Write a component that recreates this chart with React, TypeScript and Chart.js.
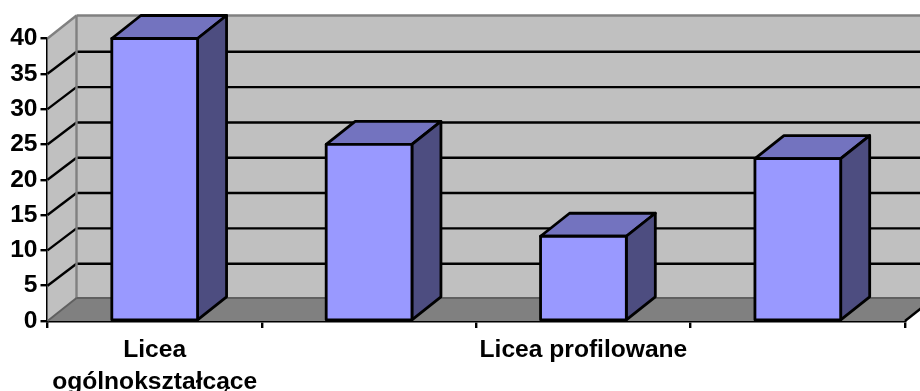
import React, { useEffect, useRef } from "react";
import { Chart, registerables } from "chart.js";

Chart.register(...registerables);

const categories: (string | string[])[] = [["Licea", "ogólnokształcące"], "", "Licea profilowane", ""];
const values = [40, 25, 12, 23];
const yTicks = [0, 5, 10, 15, 20, 25, 30, 35, 40];

const DX = 29;
const DY = -23;
const GRID_DY = -22;
const WALL = "#C0C0C0";
const EDGE = "#808080";
const FLOOR = "#808080";
const FRONT = "#9999FF";
const TOP = "#7373BF";
const SIDE = "#4D4D80";
const BAR_LINE = 2.8;

function poly(ctx: CanvasRenderingContext2D, pts: number[][], fill?: string, stroke?: string, lw = 2) {
  ctx.beginPath();
  pts.forEach((p, i) => (i ? ctx.lineTo(p[0], p[1]) : ctx.moveTo(p[0], p[1])));
  ctx.closePath();
  if (fill) {
    ctx.fillStyle = fill;
    ctx.fill();
  }
  if (stroke) {
    ctx.strokeStyle = stroke;
    ctx.lineWidth = lw;
    ctx.lineJoin = "round";
    ctx.stroke();
  }
}

function line(ctx: CanvasRenderingContext2D, x1: number, y1: number, x2: number, y2: number, color: string, lw = 2) {
  ctx.beginPath();
  ctx.moveTo(x1, y1);
  ctx.lineTo(x2, y2);
  ctx.strokeStyle = color;
  ctx.lineWidth = lw;
  ctx.stroke();
}

const box3d = {
  id: "box3d",
  beforeDatasetsDraw(chart: any) {
    const { ctx, scales } = chart;
    const y = scales.y;
    const l = chart.chartArea.left;
    const r = chart.chartArea.right;
    const y0 = y.getPixelForValue(0);
    const yMax = y.getPixelForValue(40);
    ctx.save();
    // walls and floor
    poly(ctx, [[l + DX, yMax + DY], [r + DX, yMax + DY], [r + DX, y0 + DY], [l + DX, y0 + DY]], WALL);
    poly(ctx, [[l, yMax], [l + DX, yMax + DY], [l + DX, y0 + DY], [l, y0]], WALL);
    poly(ctx, [[l, y0], [l + DX, y0 + DY], [r + DX, y0 + DY], [r, y0]], FLOOR);
    // gridlines
    for (const t of yTicks) {
      if (t === 0 || t === 40) continue;
      const p = y.getPixelForValue(t);
      line(ctx, l, p, l + DX, p + GRID_DY, "#000", 2.4);
      line(ctx, l + DX, p + GRID_DY, r + DX, p + GRID_DY, "#000", 2.4);
    }
    // edges
    line(ctx, l, yMax, l + DX, yMax + DY, EDGE, 2.4);
    line(ctx, l + DX, yMax + DY, r + DX, yMax + DY, EDGE, 2.4);
    line(ctx, l + DX, yMax + DY, l + DX, y0 + DY, EDGE, 2.4);
    line(ctx, l + DX, y0 + DY, r + DX, y0 + DY, "#606060");
    line(ctx, l, y0, l + DX, y0 + DY, "#606060");
    line(ctx, r, y0, r + DX, y0 + DY, "#000", 2.4);
    // bar depth faces
    const meta = chart.getDatasetMeta(0);
    for (const el of meta.data) {
      const left = el.x - el.width / 2;
      const right = el.x + el.width / 2;
      poly(ctx, [[left, el.y], [left + DX, el.y + DY], [right + DX, el.y + DY], [right, el.y]], TOP, "#000", BAR_LINE);
      poly(ctx, [[right, el.y], [right + DX, el.y + DY], [right + DX, el.base + DY], [right, el.base]], SIDE, "#000", BAR_LINE);
    }
    ctx.restore();
  },
  afterDatasetsDraw(chart: any) {
    const { ctx } = chart;
    ctx.save();
    for (const el of chart.getDatasetMeta(0).data) {
      const left = el.x - el.width / 2;
      const right = el.x + el.width / 2;
      poly(ctx, [[left, el.y], [right, el.y], [right, el.base], [left, el.base]], undefined, "#000", BAR_LINE);
    }
    ctx.restore();
  },
};

export default function App() {
  const ref = useRef<HTMLCanvasElement>(null);
  useEffect(() => {
    document.body.style.margin = "0";
    const font = { family: "'Liberation Sans', Arial, sans-serif", size: 24.6, weight: "bold" as const };
    const chart = new Chart(ref.current!, {
      type: "bar",
      data: {
        labels: categories as any,
        datasets: [
          {
            data: values,
            backgroundColor: FRONT,
            borderWidth: 0,
            barPercentage: 0.4,
            categoryPercentage: 1,
          },
        ],
      },
      options: {
        responsive: false,
        animation: false,
        layout: { padding: { top: 38.5, right: 15, left: 0, bottom: 0 } },
        plugins: { legend: { display: false }, tooltip: { enabled: false } },
        scales: {
          x: {
            grid: { display: true, drawOnChartArea: false, drawTicks: true, tickLength: 7, color: "#000", lineWidth: 2.4, offset: true },
            border: { display: true, color: "#000", width: 2.6 },
            ticks: { color: "#000", font: { ...font, lineHeight: 1.3 }, autoSkip: false, maxRotation: 0, minRotation: 0, padding: 6 },
            afterFit: (s: any) => {
              s.height = 70;
            },
          },
          y: {
            min: 0,
            max: 40,
            afterBuildTicks: (s: any) => {
              s.ticks = yTicks.map((value) => ({ value }));
            },
            grid: { display: true, drawOnChartArea: false, drawTicks: true, tickLength: 7, color: "#000", lineWidth: 2.4 },
            border: { display: true, color: "#000", width: 2.6 },
            ticks: { color: "#000", font, padding: 3 },
            afterFit: (s: any) => {
              s.width = 47.5;
            },
          },
        },
      },
      plugins: [box3d],
    } as any);
    return () => chart.destroy();
  }, []);
  return <canvas ref={ref} width={920} height={391} style={{ display: "block" }} />;
}
